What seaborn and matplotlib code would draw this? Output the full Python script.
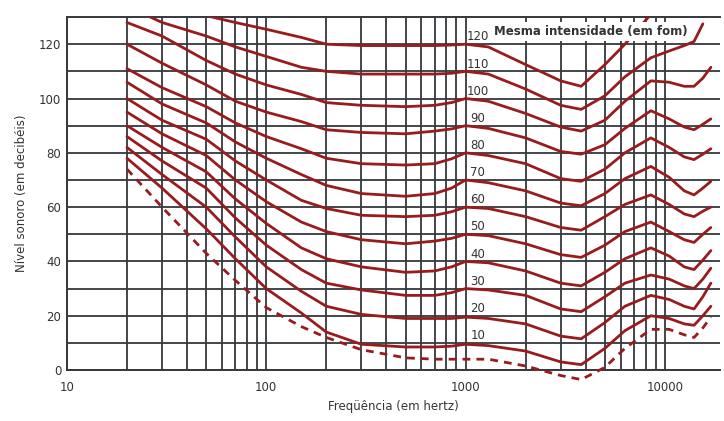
import numpy as np
import pandas as pd
import matplotlib
matplotlib.use('Agg')
import matplotlib.pyplot as plt
import matplotlib.ticker as mticker
import seaborn as sns

freqs = [20, 30, 50, 70, 100, 150, 200, 300, 500, 700, 850, 1000, 1300, 2000,
         3000, 3800, 5000, 6300, 8500, 10500, 12500, 14000, 15500, 17000]

nan = np.nan
# sound level (dB) of each equal-loudness curve, one list per phon level
phon_0 = [74, 60, 43, 33, 23, 16, 12, 7.5, 4.5, 4, 4, 4, 4, 1.5,
          -2, -3.5, 1, 8, 15, 15, 13, 12, 15.5, 19.5]
phon_10 = [78, 67, 52, 41, 30, 21, 14, 9.5, 8.5, 8.5, 8.8, 9.5, 9, 7,
           3, 2, 8, 14.5, 20, 19, 17, 16.5, 20, 23.5]
phon_20 = [82, 72, 60, 49, 38, 29, 23.5, 20.5, 19, 19, 19, 19.5, 19, 17,
           12.5, 11.5, 17.5, 23.5, 27.5, 26, 23.5, 22.5, 27, 32]
phon_30 = [86, 77, 67, 56, 46, 37, 32, 29.5, 27.5, 27.5, 28.5, 30, 29.5, 27.5,
           22.5, 21.5, 27, 32, 35, 33.5, 31, 30, 33.5, 37.5]
phon_40 = [90, 82, 73, 63, 54, 45, 41, 38, 36, 36.5, 38, 40, 39.5, 36.5,
           32, 31, 36, 41, 45, 42, 38, 37, 40.5, 44]
phon_50 = [95, 87, 79, 70, 62, 54.5, 51, 48, 46.5, 47.5, 48.5, 50, 49.5, 46.5,
           42.5, 41.5, 46, 51, 54.5, 51, 48, 47, 50, 52.5]
phon_60 = [100, 92, 85, 77, 70, 62.5, 59.5, 57, 56.5, 57, 58.3, 60, 59.5, 56.5,
           52.5, 51.5, 56.5, 61, 64.5, 61, 57.5, 56.5, 58.5, 60]
phon_70 = [106, 98, 91, 84, 78, 72, 68, 65, 64, 65, 67, 70, 69, 66,
           61.5, 60.5, 65, 70.5, 75, 71, 66, 64.5, 67, 69.5]
phon_80 = [111, 104, 97, 91, 86, 81.5, 78, 76, 75.5, 76, 77.8, 80, 79, 76,
           70.5, 69.5, 74, 80, 85.5, 82, 78.5, 77.5, 79.5, 81.5]
phon_90 = [120, 113, 105, 99, 95, 91.5, 88.5, 87.5, 87, 88, 88.8, 90, 89, 85.5,
           80.5, 79.5, 83, 89, 95.5, 92.5, 89.5, 88.5, 90.5, 92.5]
phon_100 = [128, 123, 114, 109, 105, 101.5, 98.5, 97.5, 97, 97.5, 98.5, 100, 99, 94.5,
            89.5, 88, 92, 99, 106.5, 106, 104.5, 104.5, 107.5, 111.5]
phon_110 = [134, 128, 123, 119, 115.5, 111.5, 110, 109, 109, 109, 109.3, 110, 109, 103.5,
            97.5, 96, 101, 108, 115, 117.5, 119.5, 121, 127.5, nan]
phon_120 = [nan, 140, 130.5, 128, 125.5, 122.5, 120, 119.5, 119.5, 119.5, 119.7, 120, 119, 112.5,
            106.5, 104.5, 112.5, 120, 131, nan, nan, nan, nan, nan]

levels = [10, 20, 30, 40, 50, 60, 70, 80, 90, 100, 110, 120]
curves = [phon_10, phon_20, phon_30, phon_40, phon_50, phon_60, phon_70,
          phon_80, phon_90, phon_100, phon_110, phon_120]

xticks = [10, 100, 1000, 10000]
yticks = [0, 20, 40, 60, 80, 100, 120]

sns.set_style('white')
plt.rcParams['font.family'] = ['Liberation Sans Narrow', 'DejaVu Sans']

red = '#981b1e'
grid_col = '#34383c'
txt = '#333333'

df = pd.DataFrame({
    'freq': np.tile(freqs, len(levels)),
    'db': np.concatenate(curves),
    'phon': np.repeat(levels, len(freqs)),
}).dropna()

fig = plt.figure(figsize=(7.24, 4.21), dpi=100)
ax = fig.add_axes([0.0925, 0.121, 0.902, 0.8385])

sns.lineplot(data=df, x='freq', y='db', units='phon', estimator=None,
             color=red, linewidth=2.0, ax=ax, zorder=3)
sns.lineplot(x=freqs, y=phon_0, color=red, linewidth=2.0, ax=ax,
             linestyle=(0, (2.8, 2.2)), clip_on=False, zorder=3)

ax.set_xscale('log')
ax.set_xlim(10, 18900)
ax.set_ylim(0, 130)

# grid: every integer multiple up to 10 kHz, every 10 dB
vgrid = [k * 10 ** d for d in range(1, 4) for k in range(1, 10)] + [10000]
ax.set_xticks(xticks)
ax.set_xticklabels(['10', '100', '1000', '10000'])
ax.set_xticks(vgrid, minor=True)
ax.xaxis.set_minor_formatter(mticker.NullFormatter())
ax.set_yticks(yticks)
ax.set_yticks(range(10, 130, 10), minor=True)
ax.grid(True, which='both', color=grid_col, linewidth=1.3, zorder=1)
ax.set_axisbelow(True)
ax.tick_params(which='both', length=0, labelsize=8.5, colors=txt)
ax.tick_params(axis='x', pad=8)
ax.tick_params(axis='y', pad=4)

for s in ['left', 'bottom', 'top']:
    ax.spines[s].set_color(grid_col)
    ax.spines[s].set_linewidth(1.4)
ax.spines['right'].set_visible(False)

for lv in levels:
    ax.text(1150, lv + 2.7, str(lv), fontsize=8.5, color=txt,
            ha='center', va='center', zorder=4)

ax.text(4250, 124.8, 'Mesma intensidade (em fom)', fontsize=8.5, color=txt,
        ha='center', va='center', zorder=5, fontweight='bold',
        bbox=dict(facecolor='white', edgecolor='none', pad=2))

ax.set_xlabel('Freqüência (em hertz)', fontsize=8.5, color=txt, labelpad=4)
ax.set_ylabel('Nível sonoro (em decibéis)', fontsize=8.5, color=txt, labelpad=8)

fig.savefig('out.png', dpi=100)
